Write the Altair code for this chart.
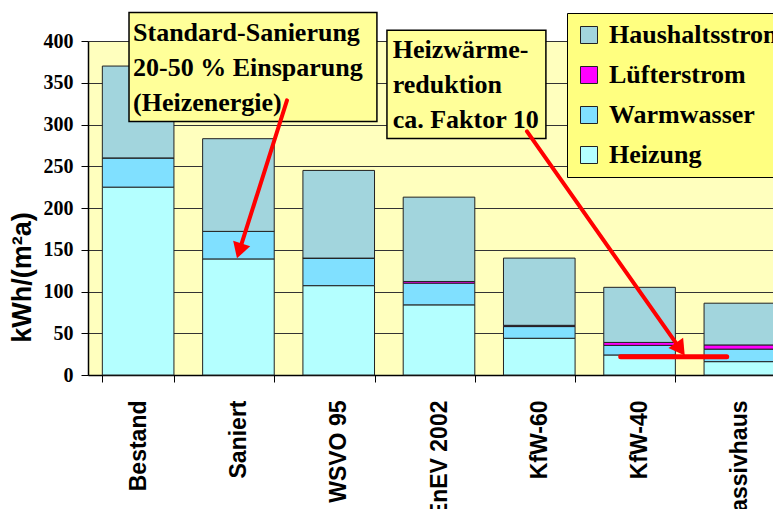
import altair as alt
import pandas as pd

# ---------------- data ----------------
categories = ["Bestand", "Saniert", "WSVO 95", "EnEV 2002", "KfW-60", "KfW-40", "Passivhaus"]
heizung = [225, 139, 107, 84, 44, 24, 16]
warmwasser = [35, 33, 33, 26, 14, 11.5, 15]
luefter = [0, 0, 0, 2, 1.5, 3.5, 5]
haushalt = [110, 111, 105, 101, 80.5, 66, 50]

series = ["Heizung", "Warmwasser", "Lüfterstrom", "Haushaltsstrom"]
legend_order = ["Haushaltsstrom", "Lüfterstrom", "Warmwasser", "Heizung"]
legend_colors = ["#A2D5DD", "#FF00FF", "#80E0FF", "#B4FFFF"]
y_ticks = [0, 50, 100, 150, 200, 250, 300, 350, 400]
y_title = "kWh/(m²a)"

# annotation boxes (x in category-index units, y in kWh/(m²a))
box_x1 = [0.409, 2.981]
box_x2 = [2.881, 4.566]
box_y1 = [434, 413]
box_y2 = [303.7, 283.3]
box_text = ["Standard-Sanierung\n20-50 % Einsparung\n(Heizenergie)",
            "Heizwärme-\nreduktion\nca. Faktor 10"]
text_x = [0.449, 3.038]
text_y = [399.6, 379.3]

# red arrows / line
line_x1 = [1.984, 4.377, 5.312]
line_y1 = [329, 291.7, 22]
line_x2 = [1.509, 5.906, 6.369]
line_y2 = [148.6, 30.9, 22]
line_w = [4, 4, 5]
head_x = [1.509, 5.906]
head_y = [148.6, 30.9]
head_angle = [197.6, 144.8]

# ---------------- frames ----------------
values = {"Heizung": heizung, "Warmwasser": warmwasser,
          "Lüfterstrom": luefter, "Haushaltsstrom": haushalt}
rows = []
for si, s in enumerate(series):
    for ci, c in enumerate(categories):
        rows.append({"category": c, "series": s, "value": values[s][ci], "order": si})
df = pd.DataFrame(rows)

boxes = pd.DataFrame({"x1": box_x1, "x2": box_x2, "y1": box_y1, "y2": box_y2})
texts = pd.DataFrame({"x": text_x, "y": text_y, "text": box_text})
lines = pd.DataFrame({"x1": line_x1, "y1": line_y1, "x2": line_x2, "y2": line_y2, "w": line_w})
heads = pd.DataFrame({"x": head_x, "y": head_y, "angle": head_angle})

RANGE = [0, 702]
yscale = alt.Scale(domain=[0, 400], nice=False, zero=True)
qx = alt.Scale(domain=[0, 7], range=RANGE, nice=False, zero=False)


def yaxis():
    return alt.Axis(values=y_ticks, title=y_title, titleFont="Liberation Sans",
                    titleFontSize=27, titleFontWeight="bold", titleColor="black",
                    titleAngle=270, titleX=-66, titleY=236, titleAlign="center",
                    titleBaseline="middle",
                    labelFont="Liberation Serif", labelFontSize=20, labelFontWeight="bold",
                    labelColor="black", labelPadding=8, tickSize=7, tickColor="black",
                    domainColor="black", domainWidth=1.5,
                    grid=True, gridColor="#333333", gridWidth=1)


bars = alt.Chart(df).mark_bar(stroke="#222222", strokeWidth=1).encode(
    x=alt.X("category:N", sort=categories,
            scale=alt.Scale(range=RANGE, paddingInner=0.286, paddingOuter=0.143),
            axis=alt.Axis(title=None, labelAngle=270, labelAlign="right", labelBaseline="middle",
                          labelFont="Liberation Sans", labelFontWeight="bold", labelFontSize=23,
                          labelColor="black", labelPadding=18, tickSize=7, tickColor="black",
                          tickBand="extent", domainColor="black", domainWidth=1.5,
                          grid=False, labelOverlap=False, labelLimit=300)),
    y=alt.Y("value:Q", stack="zero", scale=yscale, axis=yaxis()),
    color=alt.Color("series:N", scale=alt.Scale(domain=legend_order, range=legend_colors),
                    legend=alt.Legend(title=None, orient="none", legendX=479, legendY=-28,
                                      symbolType="square", symbolSize=289,
                                      symbolStrokeColor="#222222", symbolStrokeWidth=1,
                                      labelFont="Liberation Serif", labelFontSize=26,
                                      labelFontWeight="bold", labelColor="black",
                                      labelLimit=400, labelOffset=7, rowPadding=14,
                                      padding=9, fillColor="#FFFF80", strokeColor="black")),
    order=alt.Order("order:Q"),
)

box_layer = alt.Chart(boxes).mark_rect(fill="#FFFF99", stroke="black", strokeWidth=1.5).encode(
    x=alt.X("x1:Q", scale=qx, axis=None),
    x2="x2:Q",
    y=alt.Y("y1:Q", scale=yscale, axis=yaxis()),
    y2="y2:Q",
)

text_layer = alt.Chart(texts).mark_text(align="left", baseline="alphabetic",
                                        font="Liberation Serif", fontWeight="bold",
                                        fontSize=26, lineBreak="\n", lineHeight=35,
                                        color="black").encode(
    x=alt.X("x:Q", scale=qx, axis=None),
    y=alt.Y("y:Q", scale=yscale, axis=yaxis()),
    text="text:N",
)

line_layer = alt.Chart(lines).mark_rule(color="#FF0000", strokeCap="round").encode(
    x=alt.X("x1:Q", scale=qx, axis=None),
    x2="x2:Q",
    y=alt.Y("y1:Q", scale=yscale, axis=yaxis()),
    y2="y2:Q",
    strokeWidth=alt.StrokeWidth("w:Q", scale=None),
)

head_layer = alt.Chart(heads).mark_point(shape="triangle-up", filled=True, color="#FF0000",
                                         size=320, opacity=1).encode(
    x=alt.X("x:Q", scale=qx, axis=None),
    y=alt.Y("y:Q", scale=yscale, axis=yaxis()),
    angle=alt.Angle("angle:Q", scale=None),
)

chart = alt.layer(bars, box_layer, text_layer, line_layer, head_layer).resolve_scale(
    x="independent"
).properties(
    width=685, height=334,
    autosize=alt.AutoSizeParams(type="none"),
    padding={"left": 80, "top": 33, "right": 0, "bottom": 134},
    background="white",
).configure_view(fill="#FFFFBE", stroke="transparent")

chart.save("out.html", embed_options={"renderer": "svg", "actions": False})
